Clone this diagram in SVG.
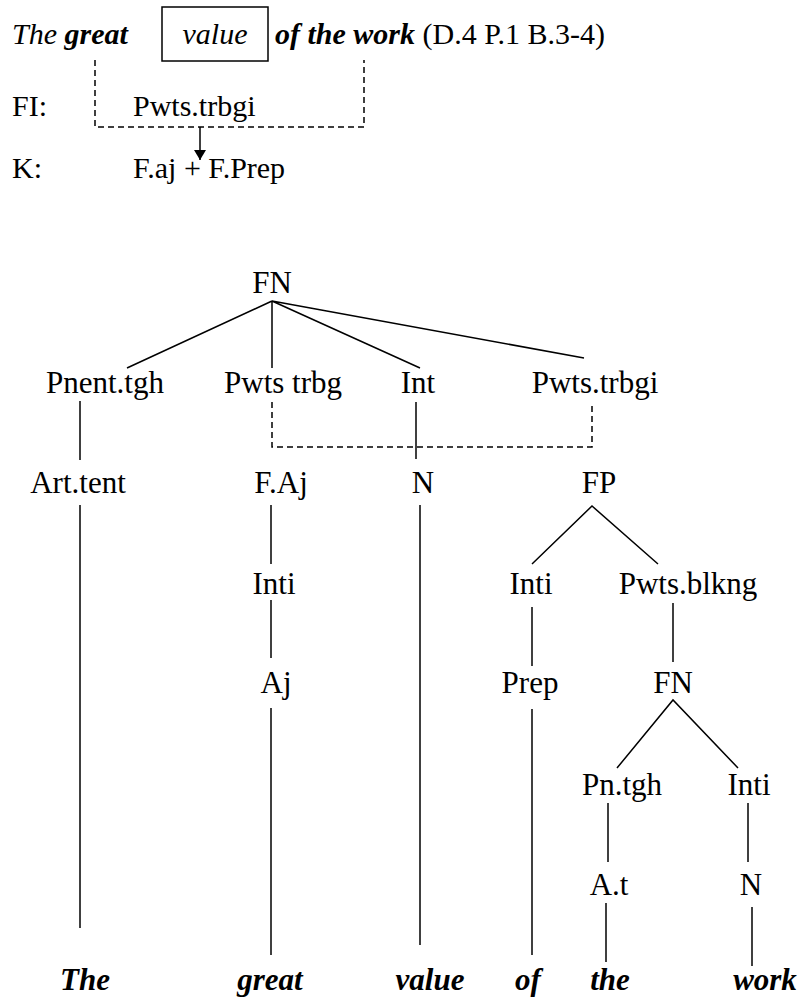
<svg xmlns="http://www.w3.org/2000/svg" width="800" height="1003" viewBox="0 0 800 1003">
<style>
text{fill:#000}
.t{font-size:30px}
.n{font-size:31px;text-anchor:middle}
.w{font-size:31px;text-anchor:middle;font-weight:bold;font-style:italic}
.i{font-style:italic}
.bi{font-style:italic;font-weight:bold}
.l{stroke:#000;stroke-width:1.5;fill:none}
.d{stroke:#000;stroke-width:1.5;fill:none;stroke-dasharray:6,4}
</style>
<defs>
<marker id="ah" viewBox="0 0 10 12" refX="10" refY="6" markerWidth="12" markerHeight="12" markerUnits="userSpaceOnUse" orient="auto">
<path d="M0,0 L10,6 L0,12 z" fill="#000"/>
</marker>
</defs>
<rect width="800" height="1003" fill="#fff"/>
<g font-family="'Liberation Serif', 'Times New Roman', Tinos, 'Nimbus Roman', 'DejaVu Serif', serif">
<g id="header">
<text class="t" y="44"><tspan x="12" class="i">The </tspan><tspan class="bi">great</tspan><tspan x="275" class="bi">of the work</tspan><tspan> (D.4 P.1 B.3-4)</tspan></text>
<g id="valuebox"><rect x="162" y="7" width="106" height="54" class="l"/><text class="t i" x="215" y="44" text-anchor="middle">value</text></g>
<text class="t" x="12" y="116">FI:</text>
<text class="t" x="133" y="116">Pwts.trbgi</text>
<text class="t" x="12" y="178">K:</text>
<text class="t" x="133" y="178">F.aj + F.Prep</text>
</g>
<g id="connectors">
<path class="d" d="M95,60 V127 H364 V60"/>
<line class="l" x1="200" y1="127" x2="200" y2="160" stroke-width="2" marker-end="url(#ah)"/>
<path class="l" d="M272,301 L127,368 M272,301 L272,368 M272,301 L420,368 M272,301 L584,358"/>
<line class="l" x1="80" y1="401" x2="80" y2="460"/>
<path class="d" d="M272,402 V447 H592 V402"/>
<line class="l" x1="416" y1="402" x2="416" y2="459"/>
<line class="l" x1="80" y1="505" x2="80" y2="928"/>
<line class="l" x1="271" y1="505" x2="271" y2="564"/>
<line class="l" x1="420" y1="505" x2="420" y2="945"/>
<path class="l" d="M532,564 L592,506 L658,564"/>
<line class="l" x1="271" y1="600" x2="271" y2="658"/>
<line class="l" x1="532" y1="607" x2="532" y2="666"/>
<line class="l" x1="673" y1="603" x2="673" y2="662"/>
<line class="l" x1="271" y1="708" x2="271" y2="955"/>
<line class="l" x1="532" y1="709" x2="532" y2="955"/>
<path class="l" d="M617,768 L673,700 L738,768"/>
<line class="l" x1="608" y1="803" x2="608" y2="862"/>
<line class="l" x1="748" y1="803" x2="748" y2="862"/>
<line class="l" x1="606" y1="903" x2="606" y2="962"/>
<line class="l" x1="752" y1="907" x2="752" y2="966"/>
</g>
<g id="FN"><text class="n" x="272" y="293">FN</text></g>
<g id="Pnent_tgh"><text class="n" x="105" y="393">Pnent.tgh</text></g>
<g id="Pwts_trbg"><text class="n" x="283" y="393">Pwts trbg</text></g>
<g id="Int"><text class="n" x="418" y="393">Int</text></g>
<g id="Pwts_trbgi"><text class="n" x="595" y="393">Pwts.trbgi</text></g>
<g id="Art_tent"><text class="n" x="78" y="493">Art.tent</text></g>
<g id="F_Aj"><text class="n" x="281" y="493">F.Aj</text></g>
<g id="N1"><text class="n" x="423" y="493">N</text></g>
<g id="FP"><text class="n" x="599" y="493">FP</text></g>
<g id="Inti1"><text class="n" x="274" y="594">Inti</text></g>
<g id="Inti2"><text class="n" x="531" y="594">Inti</text></g>
<g id="Pwts_blkng"><text class="n" x="688" y="594">Pwts.blkng</text></g>
<g id="Aj"><text class="n" x="276" y="693">Aj</text></g>
<g id="Prep"><text class="n" x="530" y="693">Prep</text></g>
<g id="FN2"><text class="n" x="673" y="693">FN</text></g>
<g id="Pn_tgh"><text class="n" x="622" y="795">Pn.tgh</text></g>
<g id="Inti3"><text class="n" x="749" y="795">Inti</text></g>
<g id="A_t"><text class="n" x="609" y="895">A.t</text></g>
<g id="N2"><text class="n" x="751" y="895">N</text></g>
<g id="words">
<text class="w" x="85" y="990">The</text>
<text class="w" x="270" y="990">great</text>
<text class="w" x="430" y="990">value</text>
<text class="w" x="528" y="990">of</text>
<text class="w" x="610" y="990">the</text>
<text class="w" x="765" y="990">work</text>
</g>
</g>
</svg>
